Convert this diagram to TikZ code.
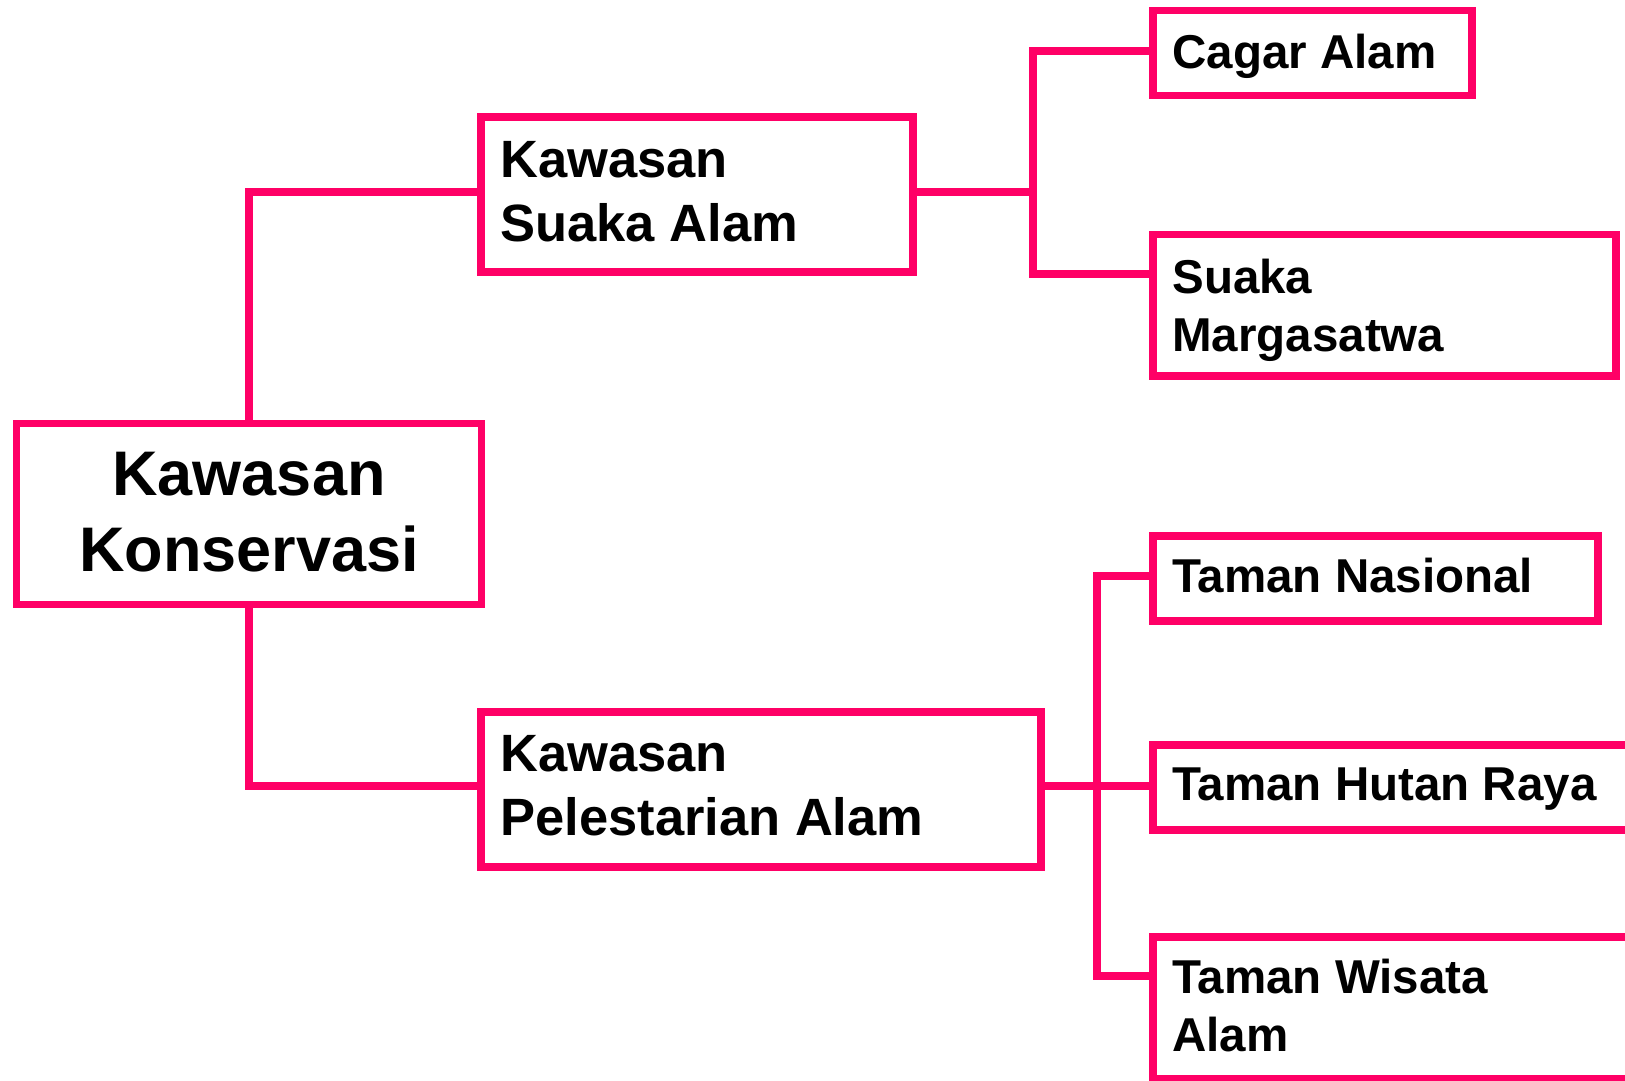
\documentclass[tikz,border=0pt]{standalone}
\usepackage{fontspec}
\setmainfont{Liberation Sans}
\usetikzlibrary{calc}
\definecolor{cpink}{HTML}{FF0066}
\tikzset{
  box/.style={draw=cpink, line width=3.75pt, rectangle, inner sep=0pt, outer sep=0pt, fill=none},
  link/.style={draw=cpink, line width=3.75pt},
  bigtxt/.style={inner sep=0pt, align=center, anchor=north, font=\bfseries\fontsize{31.5}{38}\selectfont},
  midtxt/.style={inner sep=0pt, align=left, anchor=north west, font=\bfseries\fontsize{26.25}{32}\selectfont},
  smalltxt/.style={inner sep=0pt, align=left, anchor=north west, font=\bfseries\fontsize{23.75}{29}\selectfont}
}
\begin{document}
\begin{tikzpicture}[x=0.5pt, y=-0.5pt]
\clip (0,0) rectangle (1625,1080);
\fill[white] (0,0) rectangle (1625,1080);

% boxes
\node[box, minimum width=232.5pt, minimum height=90.5pt] (kk) at (249,514) {};
\node[box, minimum width=216pt, minimum height=77.5pt] (ksa) at (697,194.5) {};
\node[box, minimum width=280pt, minimum height=77.5pt] (kpa) at (761,789.5) {};
\node[box, minimum width=159.5pt, minimum height=42.5pt] (ca) at (1312.5,53) {};
\node[box, minimum width=231.5pt, minimum height=70.75pt] (sm) at (1384.5,305.25) {};
\node[box, minimum width=222.5pt, minimum height=42.5pt] (tn) at (1375.5,578.5) {};
\node[box, minimum width=300pt, minimum height=42.5pt] (thr) at (1453,787.5) {};
\node[box, minimum width=300pt, minimum height=71pt] (twa) at (1453,1008) {};

% texts
\node[bigtxt] (kkt) at ($(kk.north)+(0,28)$) {Kawasan\\Konservasi};
\node[midtxt] (ksat) at ($(ksa.north west)+(19,24)$) {Kawasan\\Suaka Alam};
\node[midtxt] (kpat) at ($(kpa.north west)+(19,23)$) {Kawasan\\Pelestarian Alam};
\node[smalltxt] (cat) at ($(ca.north west)+(19,23.5)$) {Cagar Alam};
\node[smalltxt] (smt) at ($(sm.north west)+(19,24.5)$) {Suaka\\Margasatwa};
\node[smalltxt] (tnt) at ($(tn.north west)+(19,22)$) {Taman Nasional};
\node[smalltxt] (thrt) at ($(thr.north west)+(19,22)$) {Taman Hutan Raya};
\node[smalltxt] (twat) at ($(twa.north west)+(19,22)$) {Taman Wisata\\Alam};

% connectors
\coordinate (b1) at (1033,192);
\coordinate (b2) at (1097,786);
\draw[link] (kk.north) |- ($(ksa.north west)+(0,75)$);
\draw[link] (kk.south) |- ($(kpa.north west)+(0,74)$);
\draw[link] ($(ksa.north east)+(0,75)$) -- (b1);
\draw[link] ($(ca.north west)+(0,40.5)$) -| (b1) |- ($(sm.north west)+(0,39.5)$);
\draw[link] ($(kpa.north east)+(0,74)$) -- (b2);
\draw[link] ($(tn.north west)+(0,40)$) -| (b2) |- ($(twa.north west)+(0,39)$);
\draw[link] (b2) -- ($(thr.north west)+(0,41)$);
\end{tikzpicture}
\end{document}
